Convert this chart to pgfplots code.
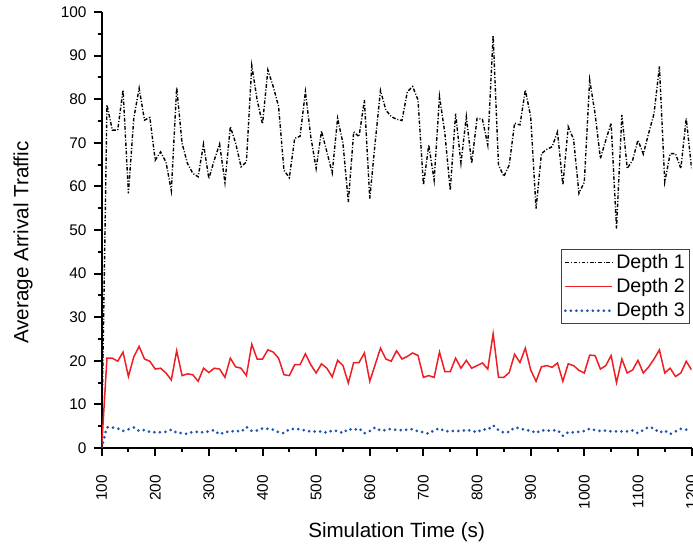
\documentclass[border=0pt]{standalone}
\usepackage{fontspec}
\setmainfont{Liberation Sans}
\usepackage{pgfplots}
\usepackage{pgfplotstable}
\pgfplotsset{compat=1.18}

\definecolor{depthred}{RGB}{237,30,36}
\definecolor{depthblue}{RGB}{35,85,170}

% time, depth 1, depth 2, depth 3
\pgfplotstableread{
t d1 d2 d3
100 0 0 0
110 78.7 20.6 4.75
120 72.9 20.6 4.7
130 72.9 19.9 4.5
140 82.1 22.0 3.9
150 58.4 16.4 4.3
160 75.6 20.9 4.7
170 82.5 23.3 3.9
180 75.2 20.4 4.1
190 75.8 19.9 3.7
200 66.0 18.1 3.6
210 67.9 18.3 3.6
220 65.6 17.2 3.7
230 59.0 15.6 4.2
240 82.7 22.3 3.5
250 69.9 16.6 3.4
260 65.3 17.0 3.2
270 63.0 16.8 3.7
280 62.2 15.3 3.7
290 69.7 18.3 3.6
300 61.8 17.3 3.8
310 66.0 18.3 4.1
320 69.7 18.1 3.1
330 60.9 16.2 3.7
340 73.7 20.6 3.7
350 69.9 18.6 4.0
360 64.5 18.3 3.7
370 65.6 16.6 4.8
380 87.7 23.8 3.9
390 79.8 20.4 4.0
400 74.3 20.4 4.5
410 86.7 22.5 4.4
420 82.9 22.0 4.2
430 78.3 20.6 3.6
440 63.7 16.8 3.4
450 62.0 16.6 4.3
460 71.0 19.1 4.4
470 71.5 19.1 4.3
480 81.7 21.6 4.0
490 71.4 19.1 3.8
500 64.1 17.2 3.8
510 72.7 19.3 3.8
520 67.9 18.3 3.5
530 63.1 16.3 4.0
540 75.6 20.1 3.9
550 69.9 18.9 3.4
560 56.4 14.9 4.4
570 72.5 19.6 4.1
580 71.4 19.6 4.5
590 79.8 21.8 3.4
600 57.2 15.3 3.9
610 70.0 19.1 4.7
620 82.0 22.9 4.0
630 77.5 20.4 4.1
640 76.0 19.9 4.4
650 75.4 22.3 4.1
660 75.1 20.4 4.1
670 81.7 21.0 4.2
680 82.9 21.8 4.3
690 79.8 21.2 3.8
700 60.3 16.2 3.6
710 69.5 16.6 3.3
720 61.4 16.2 4.1
730 80.6 22.0 4.5
740 72.2 17.5 3.8
750 59.1 17.5 3.9
760 76.7 20.6 3.9
770 65.3 18.3 3.9
780 76.0 20.1 4.1
790 65.3 18.3 4.0
800 75.6 18.9 3.6
810 75.4 19.5 4.3
820 69.5 18.1 4.2
830 94.6 26.2 5.2
840 64.9 16.2 4.1
850 62.3 16.2 3.5
860 64.9 17.3 3.7
870 74.5 21.5 4.7
880 74.1 19.6 4.5
890 82.1 22.9 4.1
900 76.0 17.9 4.0
910 54.9 15.3 3.4
920 67.5 18.6 4.1
930 68.5 18.9 4.0
940 69.1 18.5 4.0
950 72.5 19.5 4.1
960 60.3 15.3 2.8
970 73.7 19.3 3.6
980 70.8 18.9 3.6
990 58.4 17.8 3.7
1000 61.0 17.2 3.9
1010 84.4 21.3 4.4
1020 76.7 21.2 4.1
1030 66.4 18.1 3.9
1040 70.6 18.9 4.0
1050 74.5 21.2 3.8
1060 50.3 15.0 3.8
1070 76.4 20.4 3.8
1080 64.1 17.2 3.8
1090 66.0 17.9 4.0
1100 70.6 20.1 3.4
1110 67.4 17.2 4.1
1120 72.2 18.6 4.8
1130 76.7 20.4 4.5
1140 87.5 22.5 3.5
1150 61.0 17.2 4.0
1160 67.5 18.3 3.2
1170 67.5 16.4 3.8
1180 64.1 17.2 4.4
1190 75.6 19.9 4.2
1200 64.1 17.9 4.3
}\arrivaldata

\begin{document}
\begin{tikzpicture}
\begin{axis}[
    scale only axis,
    width=295pt, height=218pt,
    xmin=100, xmax=1200, ymin=0, ymax=100,
    axis lines*=left,
    axis line style={line width=1pt},
    every tick/.style={black, line width=1pt},
    tick align=outside,
    major tick length=4pt, minor tick length=2pt,
    xtick={100,200,...,1200},
    ytick={0,10,...,100},
    minor x tick num=1, minor y tick num=1,
    xticklabel style={rotate=90, anchor=east, xshift=-6pt},
    /pgf/number format/assume math mode=true,
    /pgf/number format/1000 sep={},
    tick label style={font=\fontsize{7.7}{9}\selectfont},
    label style={font=\fontsize{10.3}{12}\selectfont},
    xlabel={Simulation Time (s)},
    ylabel={Average Arrival Traffic},
    xlabel style={at={(axis description cs:0.5,0)}, anchor=base, yshift=-45pt},
    ylabel style={at={(axis description cs:-0.1242,0.471)}, anchor=base},
    legend style={at={(axis description cs:0.997,0.456)}, anchor=north east,
        draw=black!75, line width=0.5pt, font=\fontsize{9.8}{11}\selectfont,
        inner sep=1pt, row sep=1pt, nodes={inner sep=1.2pt},
        cells={anchor=west}},
    legend image code/.code={\draw[#1] (0pt,0pt) -- (23.5pt,0pt);},
]
\addplot[black, line width=0.7pt, dash pattern=on 1.8pt off 0.9pt on 0.5pt off 0.9pt]
    table[x=t, y=d1] {\arrivaldata};
\addlegendentry{Depth 1}
\addplot[depthred, line width=0.75pt]
    table[x=t, y=d2] {\arrivaldata};
\addlegendentry{Depth 2}
\addplot[depthblue, line width=1.5pt, line cap=round, dash pattern=on 0pt off 2.75pt]
    table[x=t, y=d3] {\arrivaldata};
\addlegendentry{Depth 3}
\end{axis}
\pgfresetboundingbox
\path (-50.8pt,-50.5pt) rectangle (295.7pt,224pt);
\end{tikzpicture}
\end{document}
